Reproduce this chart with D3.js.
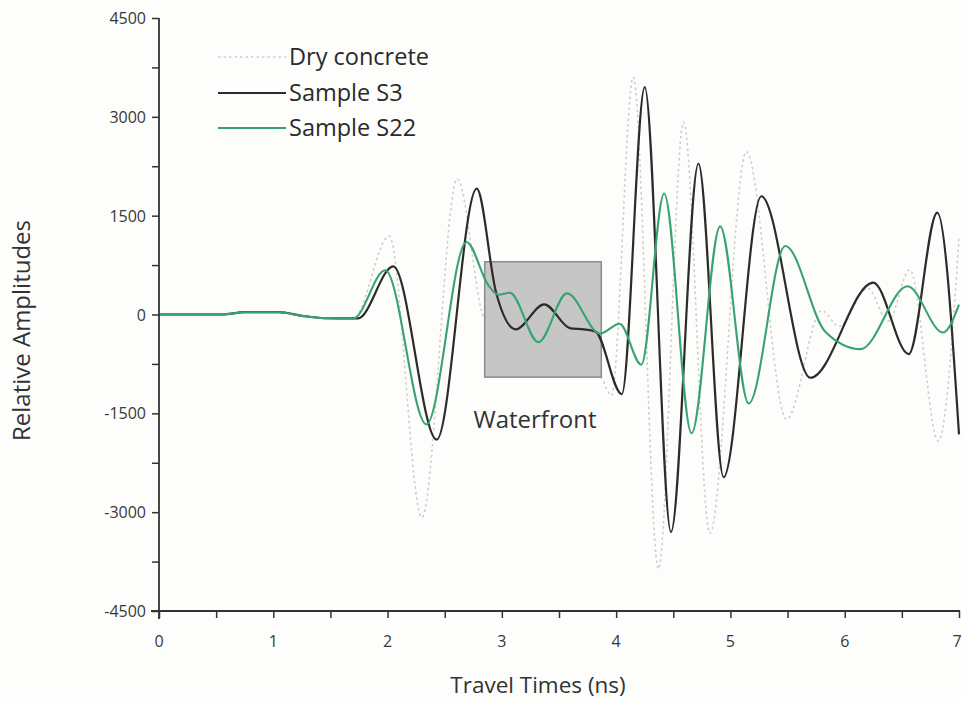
<!DOCTYPE html>
<html>
<head>
<meta charset="utf-8">
<script src="https://cdn.jsdelivr.net/npm/d3@7"></script>
<style>
  html, body { margin: 0; padding: 0; background: #fdfdfc; }
  svg { display: block; }
  text { font-family: "Open Sans", "Noto Sans", sans-serif; }
</style>
</head>
<body>
<svg id="chart" width="962" height="702"></svg>
<script>
// GPR trace amplitudes vs travel time (ns)
const seriesNames = ["Dry concrete", "Sample S3", "Sample S22"];

const dryTimes = [0, 0.55, 0.75, 1.05, 1.25, 1.45, 1.70, 2.015, 2.30, 2.61, 2.85, 3.1, 3.4, 3.65, 3.87, 3.96, 4.15, 4.37, 4.59, 4.82, 5.14, 5.49, 5.80, 5.95, 6.2, 6.38, 6.57, 6.82, 7.0];
const dryAmps  = [0, 0, 35, 35, -20, -55, -60, 1190, -3080, 2056, -75, -350, -150, -500, -950, -1227, 3600, -3860, 2920, -3320, 2470, -1590, 60, -180, 400, -100, 680, -1920, 1150];

const s3Times = [0, 0.55, 0.75, 1.05, 1.25, 1.45, 1.74, 2.05, 2.43, 2.78, 2.95, 3.12, 3.37, 3.6, 3.72, 3.82, 4.05, 4.25, 4.48, 4.72, 4.94, 5.27, 5.70, 6.25, 6.56, 6.81, 7.0];
const s3Amps  = [0, 0, 35, 35, -20, -55, -60, 730, -1900, 1910, 330, -225, 155, -210, -225, -260, -1210, 3450, -3300, 2290, -2470, 1795, -960, 485, -600, 1545, -1820];

const s22Times = [0, 0.55, 0.75, 1.05, 1.25, 1.45, 1.70, 1.98, 2.34, 2.69, 2.88, 2.97, 3.07, 3.32, 3.57, 3.86, 4.03, 4.22, 4.42, 4.66, 4.91, 5.16, 5.48, 5.83, 6.14, 6.55, 6.86, 7.0];
const s22Amps  = [0, 0, 35, 35, -20, -55, -60, 672, -1667, 1100, 450, 300, 330, -420, 320, -290, -140, -760, 1836, -1803, 1338, -1350, 1040, -260, -525, 428, -273, 150];

const xTicks = [0, 1, 2, 3, 4, 5, 6, 7];
const yTicks = [-4500, -3000, -1500, 0, 1500, 3000, 4500];

// shaded region marking the waterfront arrival
const boxTimes = [2.85, 3.87];
const boxAmps = [-950, 800];

const svg = d3.select("#chart");
const plotLeft = 159, plotRight = 959, plotTop = 18, plotBottom = 611;

const x = d3.scaleLinear().domain([0, 7]).range([plotLeft, plotRight]);
const y = d3.scaleLinear().domain([-4500, 4500]).range([plotBottom, plotTop]);

const line = d3.line()
  .x(d => x(d[0]))
  .y(d => y(d[1]))
  .curve(d3.curveMonotoneX);

const zip = (ts, as) => ts.map((t, i) => [t, as[i]]);

const axisColor = "#333";
const labelColor = "#383838";

// dry concrete trace (drawn first, under the waterfront box)
svg.append("path")
  .attr("d", line(zip(dryTimes, dryAmps)))
  .attr("fill", "none")
  .attr("stroke", "#cdcdcd")
  .attr("stroke-width", 1.6)
  .attr("stroke-dasharray", "2.5,3");

// waterfront box
svg.append("rect")
  .attr("x", x(boxTimes[0]))
  .attr("y", y(boxAmps[1]))
  .attr("width", x(boxTimes[1]) - x(boxTimes[0]))
  .attr("height", y(boxAmps[0]) - y(boxAmps[1]))
  .attr("fill", "#c6c6c6")
  .attr("stroke", "#8a8a8a")
  .attr("stroke-width", 1.5);

svg.append("text")
  .attr("x", (x(boxTimes[0]) + x(boxTimes[1])) / 2 - 8)
  .attr("y", y(boxAmps[0]) + 51)
  .attr("text-anchor", "middle")
  .attr("font-size", 24)
  .attr("fill", "#333")
  .text("Waterfront");

// sample traces
svg.append("path")
  .attr("d", line(zip(s3Times, s3Amps)))
  .attr("fill", "none")
  .attr("stroke", "#2b2b2b")
  .attr("stroke-width", 2.2);

svg.append("path")
  .attr("d", line(zip(s22Times, s22Amps)))
  .attr("fill", "none")
  .attr("stroke", "#37a371")
  .attr("stroke-width", 2.1);

// axes
const yAxisG = svg.append("g").attr("transform", `translate(${plotLeft},0)`);
yAxisG.call(d3.axisLeft(y).tickValues(d3.range(-4500, 4501, 750)).tickSize(7).tickFormat(""));
yAxisG.selectAll(".tick line").attr("stroke", axisColor).attr("stroke-width", 1.5);
yAxisG.select(".domain").remove();
yAxisG.append("line").attr("x1", 0).attr("x2", 0).attr("y1", plotTop).attr("y2", plotBottom + 8)
  .attr("stroke", axisColor).attr("stroke-width", 1.8);
yAxisG.selectAll(".ylab").data(yTicks).enter().append("text")
  .attr("class", "ylab")
  .attr("x", -13).attr("y", d => y(d) + 6)
  .attr("text-anchor", "end")
  .attr("font-size", 16)
  .attr("fill", labelColor)
  .text(d => d);

const xAxisG = svg.append("g").attr("transform", `translate(0,${plotBottom})`);
xAxisG.call(d3.axisBottom(x).tickValues(d3.range(0, 7.01, 0.5)).tickSize(7).tickFormat(""));
xAxisG.selectAll(".tick line").attr("stroke", axisColor).attr("stroke-width", 1.5);
xAxisG.select(".domain").remove();
xAxisG.append("line").attr("x1", plotLeft - 8).attr("x2", plotRight + 1).attr("y1", 0).attr("y2", 0)
  .attr("stroke", axisColor).attr("stroke-width", 1.8);
xAxisG.selectAll(".xlab").data(xTicks).enter().append("text")
  .attr("class", "xlab")
  .attr("x", d => Math.min(x(d), 957)).attr("y", 36)
  .attr("text-anchor", "middle")
  .attr("font-size", 16)
  .attr("fill", labelColor)
  .text(d => d);

// axis titles
svg.append("text")
  .attr("x", 538)
  .attr("y", 693)
  .attr("text-anchor", "middle")
  .attr("font-size", 22.5)
  .attr("fill", "#333")
  .text("Travel Times (ns)");

svg.append("text")
  .attr("transform", `translate(30,${(plotTop + plotBottom) / 2 + 16}) rotate(-90)`)
  .attr("text-anchor", "middle")
  .attr("font-size", 24)
  .attr("fill", "#333")
  .text("Relative Amplitudes");

// legend
const legendStyles = [
  { stroke: "#cfcfcf", dash: "2.5,3", width: 1.6 },
  { stroke: "#2b2b2b", dash: null, width: 2 },
  { stroke: "#37a371", dash: null, width: 2 }
];
const legendY = [57, 93, 128];
const leg = svg.append("g");
seriesNames.forEach((name, i) => {
  leg.append("line")
    .attr("x1", 218).attr("x2", 286)
    .attr("y1", legendY[i]).attr("y2", legendY[i])
    .attr("stroke", legendStyles[i].stroke)
    .attr("stroke-width", legendStyles[i].width)
    .attr("stroke-dasharray", legendStyles[i].dash);
  leg.append("text")
    .attr("x", 289).attr("y", legendY[i] + 8)
    .attr("font-size", 23.5)
    .attr("fill", "#2a2a2a")
    .text(name);
});
</script>
</body>
</html>
